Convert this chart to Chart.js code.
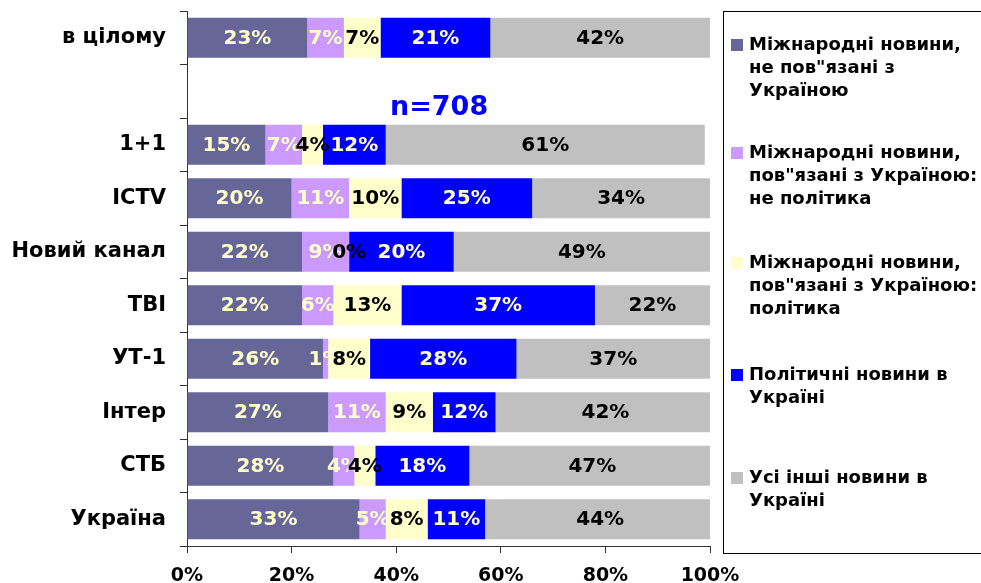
<!DOCTYPE html>
<html>
<head>
<meta charset="utf-8">
<script src="https://cdn.jsdelivr.net/npm/chart.js@4.4.0/dist/chart.umd.min.js"></script>
<style>
  html, body { margin: 0; padding: 0; background: #fff; }
  #wrap { width: 981px; height: 583px; position: relative; }
</style>
</head>
<body>
<div id="wrap"><canvas id="grafico"></canvas></div>
<script>
// categories (the empty one is the gap that holds "n=708")
const categorias = ['в цілому', '', '1+1', 'ICTV', 'Новий канал', 'ТВІ', 'УТ-1', 'Інтер', 'СТБ', 'Україна'];

const intNotUkr   = [23, null, 15, 20, 22, 22, 26, 27, 28, 33];
const intUkrOther = [7,  null, 7, 11, 9, 6, 1, 11, 4, 5];
const intUkrPol   = [7,  null, 4, 10, 0, 13, 8, 9, 4, 8];
const polUkr      = [21, null, 12, 25, 20, 37, 28, 12, 18, 11];
const otherUkr    = [42, null, 61, 34, 49, 22, 37, 42, 47, 44];

const xTicks = [0, 20, 40, 60, 80, 100];
const sampleNote = 'n=708';

const legendLines = [
    ['Міжнародні новини,', 'не пов"язані з', 'Україною'],
    ['Міжнародні новини,', 'пов"язані з Україною:', 'не політика'],
    ['Міжнародні новини,', 'пов"язані з Україною:', 'політика'],
    ['Політичні новини в', 'Україні'],
    ['Усі інші новини в', 'Україні']
];

const FONT = '"DejaVu Sans", Verdana, sans-serif';

const series = [
    { data: intNotUkr,   color: '#666699', text: '#FFFFCC' },
    { data: intUkrOther, color: '#CC99FF', text: '#FFFFCC' },
    { data: intUkrPol,   color: '#FFFFCC', text: '#000000' },
    { data: polUkr,      color: '#0000FF', text: '#FFFFCC' },
    { data: otherUkr,    color: '#C0C0C0', text: '#000000' }
];

// labels in the middle of every segment
const rotulos = {
    id: 'rotulos',
    afterDatasetsDraw(chart) {
        const ctx = chart.ctx;
        ctx.save();
        ctx.font = 'bold 20px ' + FONT;
        ctx.textAlign = 'center';
        ctx.textBaseline = 'middle';
        chart.data.datasets.forEach((ds, i) => {
            const meta = chart.getDatasetMeta(i);
            meta.data.forEach((bar, j) => {
                const v = ds.data[j];
                if (v === null || v === undefined) return;
                ctx.fillStyle = series[i].text;
                ctx.fillText(v + '%', (bar.x + bar.base) / 2, bar.y + 1);
            });
        });
        // sample size note
        const ys = chart.scales.y, xs = chart.scales.x;
        ctx.font = 'bold 27px ' + FONT;
        ctx.fillStyle = '#0000FF';
        const band = ys.getPixelForValue(2) - ys.getPixelForValue(1);
        ctx.fillText(sampleNote, xs.getPixelForValue(48.2), ys.getPixelForValue(1) + band * 0.32);
        ctx.restore();
    }
};

// legend box on the right, with wrapped text
const legenda = {
    id: 'legenda',
    afterDraw(chart) {
        const ctx = chart.ctx;
        ctx.save();
        ctx.strokeStyle = '#000';
        ctx.lineWidth = 1;
        ctx.strokeRect(723.5, 11.5, 300, 542);
        const tops = [45, 153, 263, 375, 478];
        ctx.font = 'bold 18px ' + FONT;
        ctx.textBaseline = 'middle';
        ctx.textAlign = 'left';
        legendLines.forEach((lines, i) => {
            ctx.fillStyle = series[i].color;
            ctx.fillRect(731, tops[i] - 6, 12, 12);
            ctx.fillStyle = '#000';
            lines.forEach((t, k) => ctx.fillText(t, 749, tops[i] + k * 23));
        });
        ctx.restore();
    }
};

const config = {
    type: 'bar',
    data: {
        labels: categorias,
        datasets: series.map((s, i) => ({
            label: legendLines[i].join(' '),
            data: s.data,
            backgroundColor: s.color,
            borderWidth: 0,
            categoryPercentage: 1,
            barPercentage: 0.75
        }))
    },
    options: {
        indexAxis: 'y',
        responsive: true,
        maintainAspectRatio: false,
        animation: false,
        layout: { padding: { left: 8, right: 271, top: 11, bottom: 0 } },
        plugins: {
            legend: { display: false },
            tooltip: { enabled: false }
        },
        scales: {
            x: {
                stacked: true,
                min: 0,
                max: 100,
                afterBuildTicks(scale) { scale.ticks = xTicks.map(v => ({ value: v })); },
                afterFit(scale) { scale.height = 37; },
                border: { color: '#333', width: 1 },
                grid: { drawOnChartArea: false, color: '#333', tickLength: 7 },
                ticks: {
                    color: '#000',
                    padding: 12,
                    font: { family: FONT, size: 19, weight: 'bold' },
                    callback: v => v + '%'
                }
            },
            y: {
                stacked: true,
                afterFit(scale) {
                    scale.width = 179;
                    scale.paddingTop = 0;
                    scale.paddingBottom = 0;
                },
                border: { color: '#333', width: 1 },
                grid: { drawOnChartArea: false, color: '#333', tickLength: 7, offset: true },
                ticks: {
                    color: '#000',
                    padding: 14,
                    font: { family: FONT, size: 21, weight: 'bold' }
                }
            }
        }
    },
    plugins: [rotulos, legenda]
};

new Chart(document.getElementById('grafico'), config);
</script>
</body>
</html>
